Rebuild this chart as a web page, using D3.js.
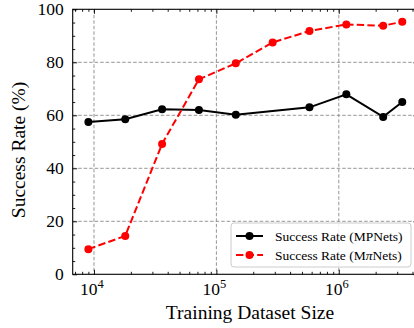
<!DOCTYPE html>
<html>
<head>
<meta charset="utf-8">
<script src="https://cdn.jsdelivr.net/npm/d3@7"></script>
<style>
  body { margin: 0; background: #fff; }
  svg { display: block; font-family: "Liberation Serif", "Times New Roman", serif; }
</style>
</head>
<body>
<div class="result"></div>
<script>
// Data
const sizesMP = [9000, 18000, 36000, 72000, 144000, 576000, 1152000, 2304000, 3300000];
const rateMP = [57.5, 58.5, 62.3, 62.0, 60.2, 63.0, 67.9, 59.4, 65.0];
const sizesMPi = [9000, 18000, 36000, 72000, 144000, 288000, 576000, 1152000, 2304000, 3300000];
const rateMPi = [9.5, 14.5, 49.2, 73.6, 79.6, 87.5, 91.8, 94.3, 93.8, 95.3];
const yTicks = [0, 20, 40, 60, 80, 100];
const xMajor = [1e4, 1e5, 1e6];
const legendLabels = [['Success Rate (MPNets)'], ['Success Rate (M', '\u03C0', 'Nets)']];

// Width and height
const w = 414;
const h = 328;
const pLeft = 72.7, pRight = 418, pTop = 9.3, pBottom = 274.3;

const svg = d3.select('.result')
  .append('svg')
  .attr('width', w)
  .attr('height', h);

// Scales
const xScale = d3.scaleLog()
  .domain([Math.pow(10, 3.826), Math.pow(10, 6.647)])
  .range([pLeft, pRight]);

const yScale = d3.scaleLinear()
  .domain([0, 100])
  .range([pBottom, pTop]);

// Minor ticks for log axis
const xMinor = [];
for (let e = 3; e <= 6; e++) {
  for (let m = 2; m <= 9; m++) {
    const v = m * Math.pow(10, e);
    if (v > xScale.domain()[0] && v < xScale.domain()[1]) xMinor.push(v);
  }
}
const yMinor = d3.range(0, 101, 5).filter(d => d % 20 !== 0);

// Grid
const grid = svg.append('g').attr('class', 'grid')
  .attr('stroke', '#8a8a8a')
  .attr('stroke-width', 0.9)
  .attr('stroke-dasharray', '3.5,2');

grid.selectAll('.gx')
  .data(xMajor)
  .enter()
  .append('line')
  .attr('x1', d => xScale(d))
  .attr('x2', d => xScale(d))
  .attr('y1', pTop)
  .attr('y2', pBottom);

grid.selectAll('.gy')
  .data(yTicks.slice(1, -1))
  .enter()
  .append('line')
  .attr('x1', pLeft)
  .attr('x2', pRight)
  .attr('y1', d => yScale(d))
  .attr('y2', d => yScale(d));

// Axes with inward ticks
function addAxis(axisFn, scale, values, size, transform) {
  const g = svg.append('g')
    .attr('transform', transform)
    .call(axisFn(scale).tickValues(values).tickSize(size).tickFormat(''));
  g.select('.domain').remove();
  g.selectAll('line').attr('stroke', '#000').attr('stroke-width', 0.9);
  return g;
}

addAxis(d3.axisBottom, xScale, xMajor, -4.5, 'translate(0,' + pBottom + ')');
addAxis(d3.axisBottom, xScale, xMinor, -2.5, 'translate(0,' + pBottom + ')');
addAxis(d3.axisTop, xScale, xMajor, -4.5, 'translate(0,' + pTop + ')');
addAxis(d3.axisTop, xScale, xMinor, -2.5, 'translate(0,' + pTop + ')');
addAxis(d3.axisLeft, yScale, yTicks, -4.5, 'translate(' + pLeft + ',0)');
addAxis(d3.axisLeft, yScale, yMinor, -2.5, 'translate(' + pLeft + ',0)');
addAxis(d3.axisRight, yScale, yTicks, -4.5, 'translate(' + pRight + ',0)');
addAxis(d3.axisRight, yScale, yMinor, -2.5, 'translate(' + pRight + ',0)');

// Frame
svg.append('rect')
  .attr('x', pLeft)
  .attr('y', pTop)
  .attr('width', pRight - pLeft)
  .attr('height', pBottom - pTop)
  .attr('fill', 'none')
  .attr('stroke', '#000')
  .attr('stroke-width', 1.1);

// Tick labels
svg.selectAll('.ylab')
  .data(yTicks)
  .enter()
  .append('text')
  .attr('x', pLeft - 9)
  .attr('y', d => yScale(d) + 5.5)
  .attr('text-anchor', 'end')
  .attr('font-size', 17.5)
  .text(d => d);

const xl = svg.selectAll('.xlab')
  .data(xMajor)
  .enter()
  .append('text')
  .attr('x', d => xScale(d) - 2)
  .attr('y', 295)
  .attr('text-anchor', 'middle')
  .attr('font-size', 17.5);
xl.append('tspan').text('10');
xl.append('tspan')
  .attr('dy', -7)
  .attr('font-size', 12.5)
  .text(d => Math.round(Math.log10(d)));

// Axis titles
svg.append('text')
  .attr('x', 250)
  .attr('y', 319)
  .attr('text-anchor', 'middle')
  .attr('font-size', 19.5)
  .text('Training Dataset Size');

svg.append('text')
  .attr('transform', 'translate(25,150) rotate(-90)')
  .attr('text-anchor', 'middle')
  .attr('font-size', 19.5)
  .text('Success Rate (%)');

// Lines
const line = d3.line()
  .x(d => xScale(d[0]))
  .y(d => yScale(d[1]));

const dataMP = sizesMP.map((s, i) => [s, rateMP[i]]);
const dataMPi = sizesMPi.map((s, i) => [s, rateMPi[i]]);

svg.append('path')
  .datum(dataMP)
  .attr('d', line)
  .attr('fill', 'none')
  .attr('stroke', '#000')
  .attr('stroke-width', 2);

svg.selectAll('.ptMP')
  .data(dataMP)
  .enter()
  .append('circle')
  .attr('cx', d => xScale(d[0]))
  .attr('cy', d => yScale(d[1]))
  .attr('r', 4)
  .attr('fill', '#000');

svg.append('path')
  .datum(dataMPi)
  .attr('d', line)
  .attr('fill', 'none')
  .attr('stroke', '#ff0000')
  .attr('stroke-width', 2)
  .attr('stroke-dasharray', '7.4,3.2');

svg.selectAll('.ptMPi')
  .data(dataMPi)
  .enter()
  .append('circle')
  .attr('cx', d => xScale(d[0]))
  .attr('cy', d => yScale(d[1]))
  .attr('r', 4)
  .attr('fill', '#ff0000');

// Legend
const legend = svg.append('g');
legend.append('rect')
  .attr('x', 231)
  .attr('y', 223)
  .attr('width', 180)
  .attr('height', 44)
  .attr('rx', 3)
  .attr('fill', '#fff')
  .attr('fill-opacity', 0.85)
  .attr('stroke', '#cccccc')
  .attr('stroke-width', 1);

const colors = ['#000', '#ff0000'];
const dashes = [null, '7.4,3.2'];
legendLabels.forEach(function (parts, i) {
  const y = 236 + i * 19;
  legend.append('line')
    .attr('x1', 236)
    .attr('x2', 263)
    .attr('y1', y)
    .attr('y2', y)
    .attr('stroke', colors[i])
    .attr('stroke-width', 2)
    .attr('stroke-dasharray', dashes[i]);
  legend.append('circle')
    .attr('cx', 249.5)
    .attr('cy', y)
    .attr('r', 4)
    .attr('fill', colors[i]);
  const t = legend.append('text')
    .attr('x', 275)
    .attr('y', y + 4.5)
    .attr('font-size', 13.5);
  parts.forEach(function (p, j) {
    t.append('tspan')
      .attr('font-style', j === 1 ? 'italic' : null)
      .text(p);
  });
});
</script>
</body>
</html>
